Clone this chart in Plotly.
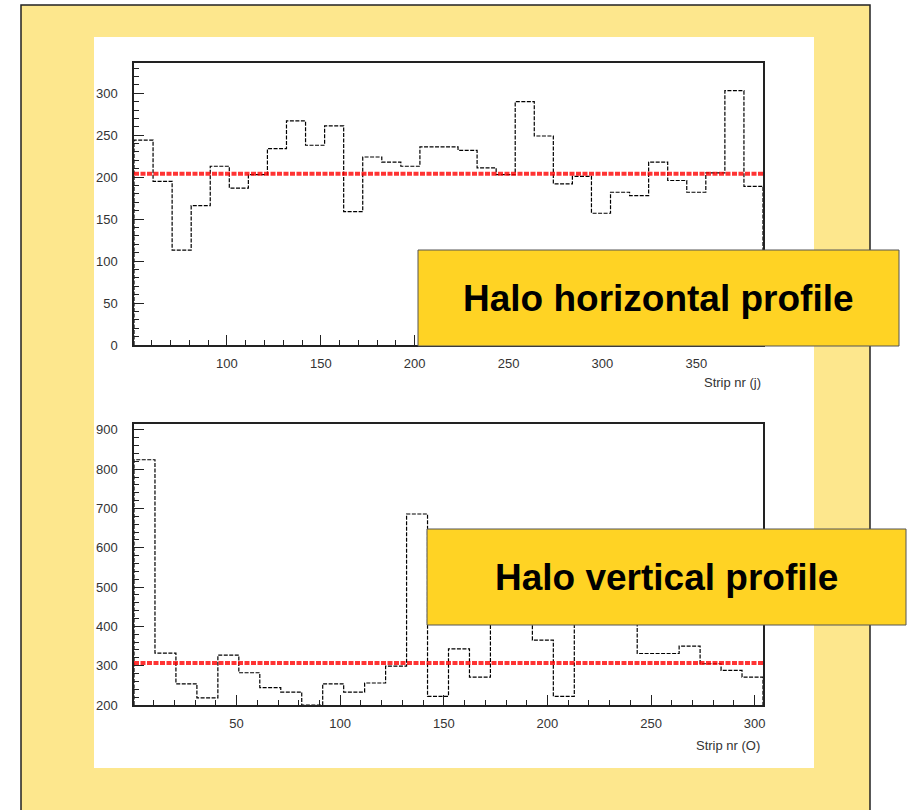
import plotly.graph_objects as go

# ---------------- data ----------------
# Horizontal profile: 33 bins over strips 50.5 .. 385.5
h_lo, h_hi = 50.5, 385.5
h_counts = [244, 195, 113, 166, 213, 187, 203, 234, 267, 238, 261, 159, 224, 218, 213,
            236, 236, 232, 211, 203, 290, 249, 192, 201, 157, 182, 178, 218, 196, 182,
            205, 303, 189]
h_level = 204

# Vertical profile: 30 bins over strips 0.5 .. 304
v_lo, v_hi = 0.5, 304.0
v_counts = [824, 332, 254, 218, 327, 282, 244, 233, 200, 254, 233, 256, 299, 686, 222,
            343, 271, 450, 420, 365, 222, 430, 470, 440, 331, 331, 350, 305, 288, 271]
v_level = 307

h_title = "Halo horizontal profile"
v_title = "Halo vertical profile"
h_xlabel = "Strip nr (j)"
v_xlabel = "Strip nr (O)"


def step_xy(lo, hi, counts, base):
    n = len(counts)
    w = (hi - lo) / n
    edges = [lo + i * w for i in range(n + 1)]
    xs = [edges[0]] + edges + [edges[-1]]
    ys = [base] + list(counts) + [counts[-1], base]
    return xs, ys


W, H = 910, 810
def px(x):
    return x / W
def py(y):
    return 1 - y / H

fig = go.Figure()

hx, hy = step_xy(h_lo, h_hi, h_counts, 0)
fig.add_trace(go.Scatter(x=hx, y=hy, mode="lines", line_shape="hv",
                         line=dict(color="black", width=1.2, dash="4px,1.5px"),
                         xaxis="x", yaxis="y", hoverinfo="skip"))
fig.add_trace(go.Scatter(x=[h_lo, h_hi], y=[h_level, h_level], mode="lines",
                         line=dict(color="rgba(255,0,0,0.8)", width=4, dash="5px,1.5px"),
                         xaxis="x", yaxis="y", hoverinfo="skip"))

vx, vy = step_xy(v_lo, v_hi, v_counts, 200)
fig.add_trace(go.Scatter(x=vx, y=vy, mode="lines", line_shape="hv",
                         line=dict(color="black", width=1.2, dash="4px,1.5px"),
                         xaxis="x2", yaxis="y2", hoverinfo="skip"))
fig.add_trace(go.Scatter(x=[v_lo, v_hi], y=[v_level, v_level], mode="lines",
                         line=dict(color="rgba(255,0,0,0.8)", width=4, dash="5px,1.5px"),
                         xaxis="x2", yaxis="y2", hoverinfo="skip"))

tickfont = dict(family="Liberation Sans, Arial, sans-serif", size=13, color="#333")
axis_common = dict(showline=True, mirror=True, linecolor="#222", linewidth=1.5,
                   showgrid=False, zeroline=False, ticks="inside", tickcolor="#222",
                   tickwidth=1.2, tickfont=tickfont, fixedrange=True, automargin=False)

fig.update_layout(
    template="none",
    width=W, height=H, autosize=False,
    margin=dict(l=0, r=0, t=0, b=0, pad=0),
    paper_bgcolor="white",
    plot_bgcolor="rgba(0,0,0,0)",
    showlegend=False,
    xaxis=dict(domain=[px(134), px(763)], range=[h_lo, h_hi], anchor="y",
               tick0=0, dtick=50, ticklen=10, ticklabelstandoff=6,
               minor=dict(dtick=10, tick0=0, ticks="inside", ticklen=5, tickcolor="#222"),
               **axis_common),
    yaxis=dict(domain=[py(345), py(63)], range=[0, 336], anchor="x",
               tick0=0, dtick=50, ticklen=10, ticklabelstandoff=12,
               minor=dict(dtick=10, tick0=0, ticks="inside", ticklen=5, tickcolor="#222"),
               **axis_common),
    xaxis2=dict(domain=[px(134), px(763)], range=[v_lo, v_hi], anchor="y2",
                tick0=0, dtick=50, ticklen=10, ticklabelstandoff=6,
                minor=dict(dtick=10, tick0=0, ticks="inside", ticklen=5, tickcolor="#222"),
                **axis_common),
    yaxis2=dict(domain=[py(705), py(424)], range=[200, 915], anchor="x2",
                tick0=0, dtick=100, ticklen=10, ticklabelstandoff=12,
                minor=dict(dtick=20, tick0=0, ticks="inside", ticklen=5, tickcolor="#222"),
                **axis_common),
)

shapes = [
    # yellow slide panel
    dict(type="rect", xref="paper", yref="paper", x0=px(21), x1=px(870), y0=-0.02, y1=py(5),
         fillcolor="#FDE78D", line=dict(color="#222", width=1.5), layer="below"),
    # white figure area
    dict(type="rect", xref="paper", yref="paper", x0=px(94), x1=px(814), y0=py(768), y1=py(37),
         fillcolor="white", line=dict(width=0), layer="below"),
    # label boxes
    dict(type="rect", xref="paper", yref="paper", x0=px(418), x1=px(899), y0=py(346), y1=py(250),
         fillcolor="#FFD324", line=dict(color="#555", width=1), layer="above"),
    dict(type="rect", xref="paper", yref="paper", x0=px(427), x1=px(906), y0=py(625), y1=py(529),
         fillcolor="#FFD324", line=dict(color="#555", width=1), layer="above"),
]
fig.update_layout(shapes=shapes)

labfont = dict(family="Liberation Sans, Arial, sans-serif", size=37, color="black")
axfont = dict(family="Liberation Sans, Arial, sans-serif", size=13, color="#333")
fig.update_layout(annotations=[
    dict(text="<b>%s</b>" % h_title, xref="paper", yref="paper", x=px(658.5), y=py(298),
         xanchor="center", yanchor="middle", showarrow=False, font=labfont),
    dict(text="<b>%s</b>" % v_title, xref="paper", yref="paper", x=px(666.5), y=py(577),
         xanchor="center", yanchor="middle", showarrow=False, font=labfont),
    dict(text=h_xlabel, xref="paper", yref="paper", x=px(763), y=py(382),
         xanchor="right", yanchor="middle", showarrow=False, font=axfont),
    dict(text=v_xlabel, xref="paper", yref="paper", x=px(762), y=py(745),
         xanchor="right", yanchor="middle", showarrow=False, font=axfont),
])

fig.write_html("out.html",
               config={"displayModeBar": False, "responsive": False},
               post_script="document.body.style.margin='0';document.body.style.overflow='hidden';")
